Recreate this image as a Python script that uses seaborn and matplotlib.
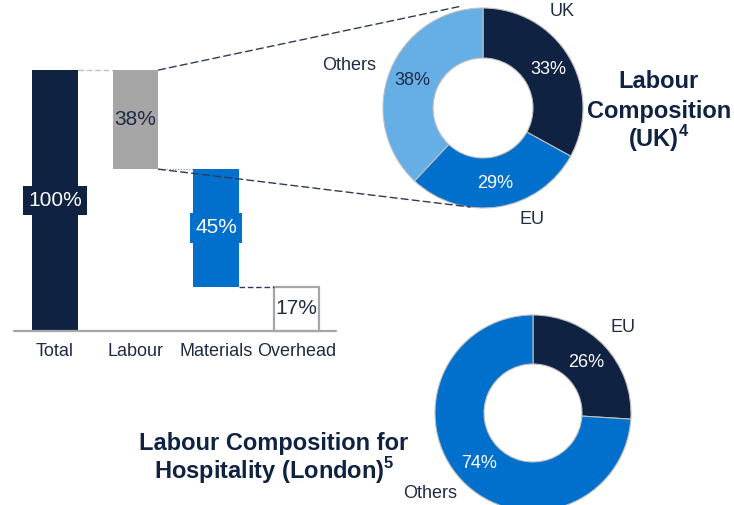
import matplotlib
matplotlib.use("Agg")
import matplotlib.pyplot as plt
from matplotlib.patches import ConnectionPatch
import pandas as pd
import seaborn as sns

# Cost breakdown (waterfall)
categories = ["Total", "Labour", "Materials", "Overhead"]
shares = [100, 38, 45, 17]

# Labour composition, UK
uk_labels = ["UK", "EU", "Others"]
uk_shares = [33, 29, 38]

# Labour composition for hospitality, London
london_labels = ["EU", "Others"]
london_shares = [26, 74]

NAVY = "#0F2242"
BLUE = "#0070CC"
LIGHT_BLUE = "#66AEE6"
GRAY = "#A6A6A6"
LIGHT_GRAY = "#BFBFBF"
TEXT = "#1F2A44"
LINE = "#2E3B55"

sns.set_theme(style="white")
plt.rcParams["font.family"] = ["Liberation Sans", "DejaVu Sans"]
plt.rcParams["mathtext.fontset"] = "custom"
plt.rcParams["mathtext.rm"] = "Liberation Sans"
plt.rcParams["mathtext.bf"] = "Liberation Sans:bold"

W, H = 734, 505
fig = plt.figure(figsize=(W / 100, H / 100), dpi=100)


def px_axes(left, top, width, height):
    return fig.add_axes([left / W, 1 - (top + height) / H, width / W, height / H])


# ---- waterfall ----
bottoms = [0]
running = shares[0]
for v in shares[1:]:
    running -= v
    bottoms.append(running)

df = pd.DataFrame({"category": categories, "share": shares, "base": bottoms})

ax = px_axes(14, 70, 322, 261)
BAR_W = 0.57
sns.barplot(data=df, x="category", y="share", bottom=df["base"].to_numpy(),
            width=BAR_W, color=NAVY, errorbar=None, linewidth=0, ax=ax)

fills = [NAVY, GRAY, BLUE, "none"]
for patch, fc in zip(ax.patches, fills):
    patch.set_facecolor(fc)
    if fc == "none":
        patch.set_edgecolor(GRAY)
        patch.set_linewidth(1.6)
        patch.set_clip_on(False)

ax.set_xlim(-0.51, 3.49)
ax.set_ylim(0, 100)
for s in ax.spines.values():
    s.set_visible(False)
ax.axhline(0, color=GRAY, lw=1.6, clip_on=False, zorder=5)
ax.set_yticks([])
ax.set_xlabel("")
ax.set_ylabel("")
ax.tick_params(axis="x", length=0, pad=9, labelsize=13, labelcolor=TEXT)

# value labels
label_styles = [
    dict(color="white", bbox=dict(boxstyle="square,pad=0.25", fc=NAVY, ec="none")),
    dict(color=TEXT),
    dict(color="white", bbox=dict(boxstyle="square,pad=0.25", fc=BLUE, ec="none")),
    dict(color=TEXT),
]
for i, (v, b) in enumerate(zip(shares, bottoms)):
    ax.text(i, b + v / 2, f"{v}%", ha="center", va="center", fontsize=15,
            zorder=6, **label_styles[i])

# connectors between bars
half = BAR_W / 2
ax.plot([0 + half, 1 - half], [shares[0]] * 2, color=LIGHT_GRAY, lw=1,
        ls=(0, (4, 2)), clip_on=False)
ax.plot([1 + half, 2 - half], [bottoms[1]] * 2, color=GRAY, lw=1,
        ls=(0, (1, 1)), clip_on=False)
ax.plot([2 + half, 3 - half], [bottoms[2]] * 2, color=LINE, lw=1,
        ls=(0, (4, 2)), clip_on=False)

# ---- donut: UK ----
R1 = 100
ax1 = px_axes(483 - 1.3 * R1, 108 - 1.3 * R1, 2.6 * R1, 2.6 * R1)
w1, _, pct1 = ax1.pie(uk_shares, colors=[NAVY, BLUE, LIGHT_BLUE], startangle=90,
                      counterclock=False, autopct="%.0f%%", pctdistance=0.76,
                      wedgeprops=dict(width=0.5, edgecolor=LIGHT_GRAY, linewidth=0.8),
                      textprops=dict(fontsize=13))
for t, c in zip(pct1, ["white", "white", TEXT]):
    t.set_color(c)
ax1.set_xlim(-1.3, 1.3)
ax1.set_ylim(-1.3, 1.3)
for lab, (x, y) in zip(uk_labels, [(0.79, 0.96), (0.49, -1.12), (-1.34, 0.42)]):
    ax1.text(x, y, lab, ha="center", va="center", fontsize=13, color=TEXT)

# ---- donut: London hospitality ----
R2 = 98
ax2 = px_axes(533 - 1.3 * R2, 413 - 1.3 * R2, 2.6 * R2, 2.6 * R2)
w2, _, pct2 = ax2.pie(london_shares, colors=[NAVY, BLUE], startangle=90,
                      counterclock=False, autopct="%.0f%%", pctdistance=0.75,
                      wedgeprops=dict(width=0.5, edgecolor=LIGHT_GRAY, linewidth=0.8),
                      textprops=dict(fontsize=13, color="white"))
ax2.set_xlim(-1.3, 1.3)
ax2.set_ylim(-1.3, 1.3)
for lab, (x, y) in zip(london_labels, [(0.92, 0.87), (-1.05, -0.82)]):
    ax2.text(x, y, lab, ha="center", va="center", fontsize=13, color=TEXT)

# zoom lines from the Labour bar to the UK donut
for ya, xyb in [(shares[0], (-0.21, 1.02)), (bottoms[1], (-0.13, -0.99))]:
    con = ConnectionPatch(xyA=(1 + half, ya), coordsA=ax.transData,
                          xyB=xyb, coordsB=ax1.transData,
                          color=LINE, lw=1, ls=(0, (5, 3)), zorder=7)
    fig.add_artist(con)

# titles, one line at a time (baselines in pixels from the top)
title_kw = dict(ha="center", va="baseline", fontsize=17, fontweight="bold", color=NAVY)
for line, base in [("Labour", 88), ("Composition", 118), ("(UK)$^{\\mathbf{4}}$", 147)]:
    fig.text(659 / W, 1 - base / H, line, **title_kw)
for line, base in [("Labour Composition for", 450),
                   ("Hospitality (London)$^{\\mathbf{5}}$", 479)]:
    fig.text(274 / W, 1 - base / H, line, **title_kw)

fig.savefig("out.png", dpi=100)
